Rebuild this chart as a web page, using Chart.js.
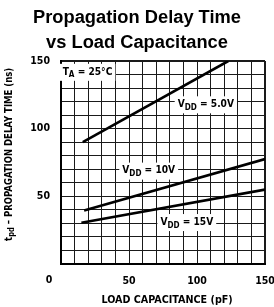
<!DOCTYPE html>
<html>
<head>
<meta charset="utf-8">
<script src="https://cdn.jsdelivr.net/npm/chart.js@4/dist/chart.umd.min.js"></script>
<style>
  html,body{margin:0;padding:0;background:#fff;}
  #wrap{width:274px;height:307px;}
</style>
</head>
<body>
<div id="wrap"><canvas id="c" width="274" height="307"></canvas></div>
<script>
// ---- data ----
const titleLines = ["Propagation Delay Time", "vs Load Capacitance"];
const xAxisTitle = "LOAD CAPACITANCE (pF)";
const xTickLabels = [0, 50, 100, 150];
const yTickLabels = [50, 100, 150];
const seriesNames = ["VDD = 5.0V", "VDD = 10V", "VDD = 15V"];
const capVdd5 = [16, 123];
const tpdVdd5 = [90, 150];
const capVdd10 = [17, 150];
const tpdVdd10 = [39.5, 77.5];
const capVdd15 = [15, 150];
const tpdVdd15 = [30.5, 55];

const COND = "'Liberation Sans Narrow','DejaVu Sans Condensed','Arial Narrow',sans-serif";

function pts(xs, ys){ return xs.map((x,i)=>({x:x, y:ys[i]})); }

// draw text with subscript parts
function measureParts(ctx, parts, size){
  let w = 0;
  for (const p of parts){
    ctx.font = "bold " + (p.sub ? size*0.8 : size) + "px " + COND;
    w += ctx.measureText(p.t).width;
  }
  return w;
}
function drawParts(ctx, parts, x, y, size){
  let cx = x;
  for (const p of parts){
    ctx.font = "bold " + (p.sub ? size*0.8 : size) + "px " + COND;
    ctx.fillText(p.t, cx, p.sub ? y + size*0.3 : y);
    cx += ctx.measureText(p.t).width;
  }
}

const annot = {
  id: 'annot',
  afterDraw(chart){
    const ctx = chart.ctx, xs = chart.scales.x, ys = chart.scales.y, ca = chart.chartArea;
    ctx.save();
    ctx.textBaseline = 'middle';
    ctx.textAlign = 'left';
    const size = 11;
    const labels = [
      {parts:[{t:"T"},{t:"A",sub:true},{t:" = 25°C"}], x:1.2, y:142, anchor:'left'},
      {parts:[{t:"V"},{t:"DD",sub:true},{t:" = 5.0V"}], x:106.5, y:118, anchor:'center'},
      {parts:[{t:"V"},{t:"DD",sub:true},{t:" = 10V"}], x:64.5, y:69, anchor:'center'},
      {parts:[{t:"V"},{t:"DD",sub:true},{t:" = 15V"}], x:92.5, y:31, anchor:'center'}
    ];
    const sx = 0.92;
    for (const l of labels){
      const w = measureParts(ctx, l.parts, size) * sx;
      let px = xs.getPixelForValue(l.x);
      const py = ys.getPixelForValue(l.y);
      if (l.anchor === 'center') px -= w/2;
      ctx.fillStyle = '#fff';
      ctx.fillRect(px - 3, py - 8, w + 6, 17);
      ctx.fillStyle = '#000';
      ctx.save();
      ctx.translate(px, py);
      ctx.scale(sx, 1);
      drawParts(ctx, l.parts, 0, 0, size);
      ctx.restore();
    }
    // corner "0" tick label
    ctx.font = "bold 10.5px " + COND;
    ctx.textAlign = 'center';
    ctx.fillText(String(xTickLabels[0]), ca.left - 12, ca.bottom + 16);
    // x axis title
    ctx.save();
    ctx.font = "bold 11px " + COND;
    ctx.textAlign = 'center';
    ctx.translate(xs.getPixelForValue(78), ca.bottom + 36);
    ctx.scale(0.97, 1);
    ctx.fillText(xAxisTitle, 0, 0);
    ctx.restore();
    // y axis title with subscript, rotated
    const yparts = [{t:"t"},{t:"pd",sub:true},{t:" – PROPAGATION DELAY TIME (ns)"}];
    const ys2 = 10.5;
    const ysx = 0.9;
    const wy = measureParts(ctx, yparts, ys2);
    ctx.save();
    ctx.textAlign = 'left';
    ctx.translate(9, ys.getPixelForValue(81));
    ctx.rotate(-Math.PI/2);
    ctx.scale(ysx, 1);
    drawParts(ctx, yparts, -wy/2, 0, ys2);
    ctx.restore();
    ctx.restore();
  }
};

new Chart(document.getElementById('c'), {
  type: 'line',
  data: {
    datasets: [
      {label: seriesNames[0], data: pts(capVdd5, tpdVdd5)},
      {label: seriesNames[1], data: pts(capVdd10, tpdVdd10)},
      {label: seriesNames[2], data: pts(capVdd15, tpdVdd15)}
    ].map(d => Object.assign(d, {borderColor:'#000', borderWidth:2.6, pointRadius:0, tension:0, fill:false}))
  },
  options: {
    responsive: false,
    animation: false,
    devicePixelRatio: 1,
    layout: {padding: {left:0, right:0, top:0, bottom:0}},
    plugins: {
      legend: {display:false},
      tooltip: {enabled:false},
      title: {
        display: true,
        text: titleLines,
        color: '#000',
        font: {family: "'Liberation Sans',Arial,Helvetica,sans-serif", size: 18.3, weight: 'bold', lineHeight: 1.366},
        padding: {top: 5, bottom: 6}
      }
    },
    scales: {
      x: {
        type: 'linear', min: 0, max: 150,
        afterFit(s){ s.height = 43; s.paddingRight = 9; s.paddingLeft = 0; },
        grid: {color: '#1a1a1a', lineWidth: c => (c.tick && c.tick.value === 150 ? 2 : 1), drawTicks: false},
        border: {color: '#000', width: 2},
        ticks: {
          stepSize: 10, autoSkip: false, maxRotation: 0, padding: 11, color: '#000',
          font: {family: COND, size: 10.5, weight: 'bold'},
          callback: v => (xTickLabels.includes(v) && v !== 0 ? String(v) : '')
        }
      },
      y: {
        type: 'linear', min: 0, max: 150,
        afterFit(s){ s.width = 61; },
        grid: {color: '#1a1a1a', lineWidth: c => (c.tick && c.tick.value === 150 ? 2 : 1), drawTicks: false},
        border: {color: '#000', width: 2},
        ticks: {
          stepSize: 10, autoSkip: false, padding: 11, color: '#000',
          font: {family: COND, size: 10.5, weight: 'bold'},
          callback: v => (yTickLabels.includes(v) ? String(v) : '')
        }
      }
    }
  },
  plugins: [annot]
});
</script>
</body>
</html>
